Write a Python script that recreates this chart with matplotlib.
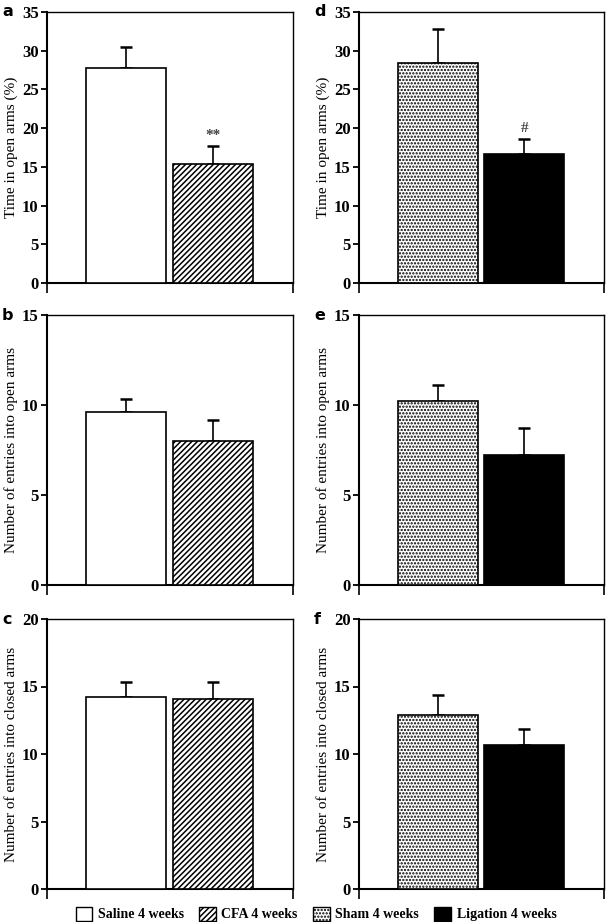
import numpy as np
import matplotlib
matplotlib.use('Agg')
import matplotlib.pyplot as plt
from matplotlib.patches import Patch

plt.rcParams['font.family'] = ['Liberation Serif', 'DejaVu Serif']
plt.rcParams['hatch.linewidth'] = 1.1

groups_left = ['Saline 4 weeks', 'CFA 4 weeks']
groups_right = ['Sham 4 weeks', 'Ligation 4 weeks']

# panel a / d : time in open arms (%)
open_time_left = [27.8, 15.4]
open_time_left_err = [2.7, 2.3]
open_time_right = [28.4, 16.7]
open_time_right_err = [4.4, 1.9]

# panel b / e : entries into open arms
open_entries_left = [9.63, 8.02]
open_entries_left_err = [0.7, 1.13]
open_entries_right = [10.22, 7.23]
open_entries_right_err = [0.87, 1.52]

# panel c / f : entries into closed arms
closed_entries_left = [14.25, 14.1]
closed_entries_left_err = [1.05, 1.2]
closed_entries_right = [12.89, 10.67]
closed_entries_right_err = [1.46, 1.21]

panels = [
    ('a', open_time_left, open_time_left_err, 'left', 35, 5, 'Time in open arms (%)', '**'),
    ('d', open_time_right, open_time_right_err, 'right', 35, 5, 'Time in open arms (%)', '#'),
    ('b', open_entries_left, open_entries_left_err, 'left', 15, 5, 'Number of entries into open arms', None),
    ('e', open_entries_right, open_entries_right_err, 'right', 15, 5, 'Number of entries into open arms', None),
    ('c', closed_entries_left, closed_entries_left_err, 'left', 20, 5, 'Number of entries into closed arms', None),
    ('f', closed_entries_right, closed_entries_right_err, 'right', 20, 5, 'Number of entries into closed arms', None),
]

W, H = 609, 922
fig = plt.figure(figsize=(W / 100, H / 100), dpi=100)

col_x = {'left': (47, 293), 'right': (359, 604)}
row_y = [(12, 283), (315, 585), (619, 889)]

styles = {
    'left': [dict(facecolor='white', hatch=None), dict(facecolor='white', hatch='//////')],
    'right': [dict(facecolor='white', hatch='.....'), dict(facecolor='black', hatch=None)],
}

xpos = np.arange(2)
for i, (letter, vals, errs, side, ymax, ystep, ylabel, mark) in enumerate(panels):
    x0, x1 = col_x[side]
    t, b = row_y[i // 2]
    ax = fig.add_axes([x0 / W, (H - b) / H, (x1 - x0) / W, (b - t) / H])
    for j in range(2):
        st = styles[side][j]
        ax.bar(xpos[j], vals[j], width=0.925, facecolor=st['facecolor'],
               edgecolor='black', hatch=st['hatch'], linewidth=1.2, zorder=3)
    ax.errorbar(xpos, vals, yerr=[[0, 0], errs], fmt='none', ecolor='black',
                elinewidth=1.2, capsize=4, capthick=1.8, zorder=2)
    if mark:
        ax.text(xpos[1], vals[1] + errs[1] + 1.3, mark, ha='center', va='center',
                fontsize=11, fontweight='bold', color='#444444')
    ax.set_xlim(-0.91, 1.92)
    ax.set_ylim(0, ymax)
    ax.set_yticks(np.arange(0, ymax + 1, ystep))
    ax.set_xticks([-0.91, 1.92])
    ax.set_xticklabels([])
    ax.tick_params(axis='y', direction='out', length=4, width=1.3, pad=2,
                   labelsize=12)
    ax.tick_params(axis='x', direction='out', length=7, width=1.2)
    for lab in ax.get_yticklabels():
        lab.set_fontweight('bold')
    ax.spines['left'].set_linewidth(1.5)
    ax.spines['bottom'].set_linewidth(1.5)
    ax.spines['top'].set_linewidth(1.0)
    ax.spines['right'].set_linewidth(1.0)
    ax.set_ylabel(ylabel, fontsize=11, labelpad=3)
    fig.text((x0 - 45) / W, (H - t) / H, letter, fontsize=11.5, fontweight='bold',
             family='DejaVu Sans', ha='left', va='center')

handles = [
    Patch(facecolor='white', edgecolor='black', linewidth=1.0, label=groups_left[0]),
    Patch(facecolor='white', edgecolor='black', hatch='//////', linewidth=1.0, label=groups_left[1]),
    Patch(facecolor='white', edgecolor='black', hatch='.....', linewidth=1.0, label=groups_right[0]),
    Patch(facecolor='black', edgecolor='black', linewidth=1.0, label=groups_right[1]),
]
fig.legend(handles=handles, loc='center', bbox_to_anchor=(316 / W, (H - 914) / H),
           ncol=4, frameon=False, prop={'weight': 'bold', 'size': 10},
           handlelength=1.2, handleheight=1.2, handletextpad=0.4,
           columnspacing=1.1, borderpad=0)

fig.savefig('out.png', dpi=100)
